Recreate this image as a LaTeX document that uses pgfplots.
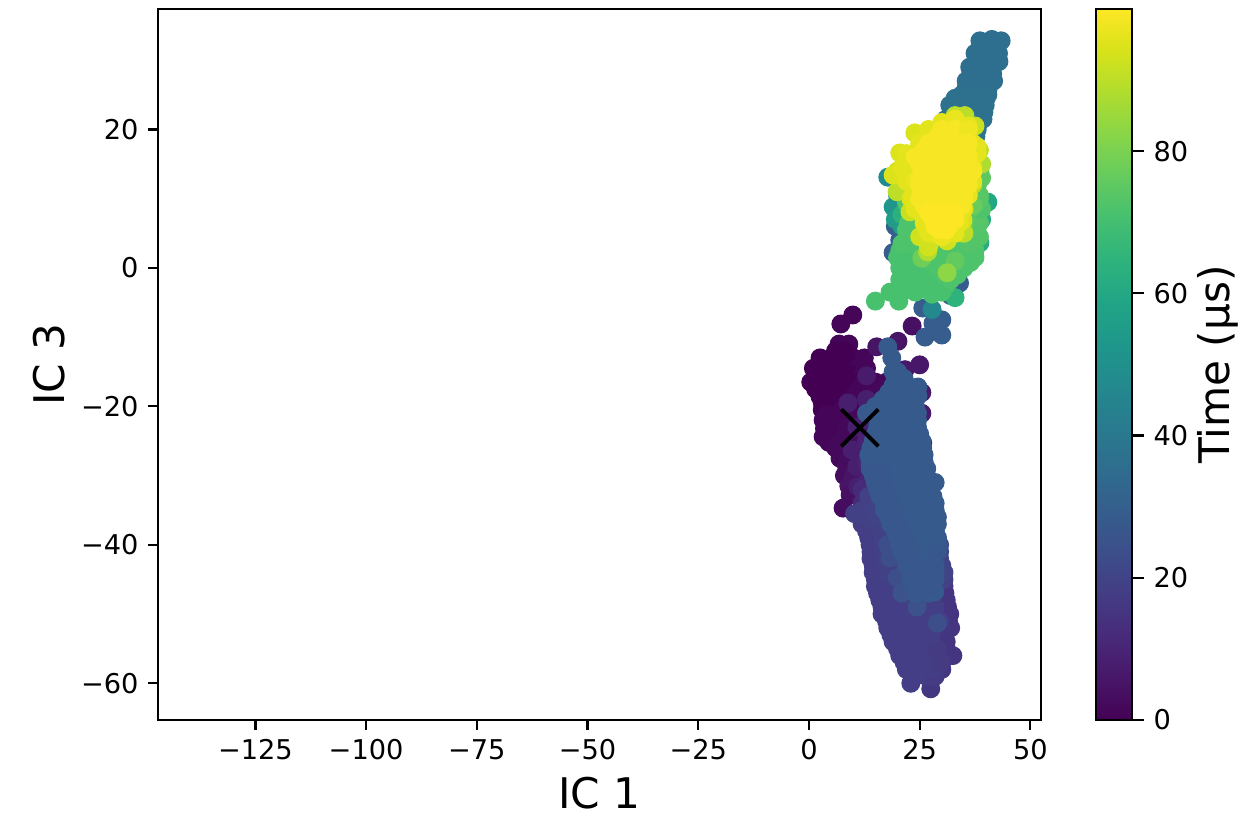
\documentclass[border=0pt]{standalone}
\usepackage{fontspec}
\setmainfont{DejaVu Sans}
\usepackage{pgfplots}
\pgfplotsset{compat=1.18}

\begin{document}
\begin{tikzpicture}[x=1pt,y=1pt]
\path[use as bounding box] (0,0) rectangle (446.76pt,293.4pt);
\begin{axis}[
    at={(56.88pt,34.2pt)}, anchor=south west,
    scale only axis,
    width=317.88pt, height=255.96pt,
    xmin=-147, xmax=52.4, ymin=-65.3, ymax=37.4,
    axis line style={line width=0.8pt},
    tick align=outside, tick pos=left,
    major tick length=3.5pt,
    every tick/.style={black,line width=0.8pt},
    tick label style={font=\fontsize{9.8}{12}\selectfont},
    xtick={-125,-100,-75,-50,-25,0,25,50},
    xticklabels={−125,−100,−75,−50,−25,0,25,50},
    ytick={-60,-40,-20,0,20},
    yticklabels={−60,−40,−20,0,20},
    xlabel={IC 1}, ylabel={IC 3},
    label style={font=\fontsize{15.2}{18}\selectfont},
    xlabel style={at={(axis description cs:0.5,0)},anchor=base,yshift=-31.7pt},
    ylabel style={at={(axis description cs:0,0.5)},anchor=base,yshift=33.5pt},
    colormap/viridis,
    point meta min=0, point meta max=100,
    colorbar,
    colorbar style={
        at={(parent axis.south east)}, anchor=south west, xshift=11.2pt,
        width=12.96pt,
        /pgf/number format/assume math mode=true,
        ytick={0,20,40,60,80},
        tick align=outside, ytick pos=right,
        ylabel={Time (µs)},
        axis line style={line width=0.8pt},
        ylabel style={at={(axis description cs:1,0.5)},anchor=base,yshift=-35pt,
            font=\fontsize{15.2}{18}\selectfont},
    },
]
\addplot[scatter, only marks, mark=*, mark size=3.2pt, point meta=explicit,
    scatter/use mapped color={draw=mapped color,fill=mapped color}] coordinates {
% first microseconds, dark blob
(9.9,-6.8)[1] (7.2,-8.1)[1] (6.8,-11)[1] (9,-11)[1]
(2.5,-13)[0] (5,-13)[0] (7.5,-13)[0] (10,-13)[0] (12.5,-13)[1]
(6,-12)[0] (8,-12)[0]
(1,-14.5)[0] (3.5,-14.5)[0] (6,-14.5)[0] (8.5,-14.5)[0] (11,-14.5)[1] (13,-14.5)[1]
(2,-15.5)[0] (4.5,-15.5)[0] (7,-15.5)[0] (9.5,-15.5)[0] (12,-15.5)[1]
(0.4,-16.5)[0] (2.5,-16.5)[0] (5,-16.5)[0] (7.5,-16.5)[0] (10,-16.5)[0] (12.5,-16.5)[1] (15,-16.5)[1] (17.5,-16.5)[2]
(1.5,-17.5)[0] (4,-17.5)[0] (6.5,-17.5)[0] (9,-17.5)[0] (11.5,-17.5)[1] (14,-17.5)[1] (16.5,-17.5)[2]
(2.5,-18.6)[0] (5,-18.6)[0] (7.5,-18.6)[0] (10,-18.6)[1] (12.5,-18.6)[1] (15,-18.6)[2] (17,-18.6)[3] (19,-18.6)[3]
(3,-19.5)[0] (6,-19.5)[0] (9,-19.5)[1] (11.5,-19.5)[1] (14,-19.5)[2]
(3,-20.5)[0] (5,-20.5)[0] (7.5,-20.5)[1] (10,-20.5)[1] (12.5,-20.5)[2]
(4,-21.2)[1] (6.5,-21.2)[1] (9,-21.2)[1] (11,-21.2)[2]
(3.2,-22)[1] (5.5,-22)[1] (8,-22)[1] (10,-22)[2] (12,-22)[2]
(3.5,-23.2)[1] (6,-23.2)[1] (8.5,-23.2)[2] (11,-23.2)[2]
(3.2,-24.4)[1] (5.5,-24.4)[1] (8,-24.4)[2] (10,-24.4)[2] (12,-24.4)[3]
(4.5,-25.2)[1] (7,-25.2)[2] (9,-25.2)[2] (11,-25.2)[3] (13,-25.2)[3]
(6,-26)[2] (8,-26)[2] (10,-26)[3] (12,-26)[3]
(7,-27.5)[2] (9,-27.5)[3] (11,-27.5)[3]
(8.5,-28.7)[3] (8,-30)[3] (10,-30)[5] (9,-31.5)[5] (9.3,-32.8)[4] (7.7,-34.7)[3]
(23.3,-8.4)[4] (15.3,-11.4)[5] (20.1,-10.6)[5] (25,-14)[6] (21.7,-14.7)[6]
(25.5,-18)[7] (25.5,-21)[7] (25.7,-25.3)[7] (22,-21)[7]
(13,-15.6)[7] (8.8,-19.5)[8] (10.8,-23)[8] (9.7,-26.3)[8] (10.8,-28.7)[8] (11,-31.6)[8]
(13,-19)[8] (14,-22)[9] (13,-25)[9] (13,-28)[10] (13,-31)[10]
% slow drift down the lower band
(12,-32)[12] (15,-32)[12] (18,-32)[13] (21,-32)[13] (24,-32)[13]
(12,-34)[12] (15,-34)[13] (18,-34)[13] (21,-34)[14] (24,-34)[14]
(32.5,-56)[15] (31,-54)[15] (32,-52)[15] (31.8,-50)[15] (31,-48)[15] (30.5,-46)[15]
(31,-55)[15] (30,-53)[15] (31.5,-51)[15] (31.3,-49)[15] (30.7,-47)[15]
(29.5,-56)[16] (28,-54)[16] (30,-58)[16] (30,-52)[16] (28.5,-50)[16] (28,-48)[16] (27,-46)[16] (27.5,-60.8)[16]
(23,-60)[18] (24,-59)[18] (26.5,-59)[18] (28.5,-59)[17]
(22,-58)[18] (25,-58)[18] (28,-58)[18]
(21.5,-57)[18] (24,-57)[18] (27,-57)[18] (30,-57)[17]
(20.5,-56)[18] (23.5,-56)[18] (26.5,-56)[18]
(20,-55)[18] (23,-55)[18] (26,-55)[18] (29,-55)[17]
(19,-54)[18] (22,-54)[18] (25,-54)[18]
(18.5,-53)[18] (21.5,-53)[18] (24.5,-53)[18] (27.5,-53)[18]
(17.8,-52)[18] (21,-52)[18] (24,-52)[18] (27,-52)[18]
(17.5,-51)[18] (20.5,-51)[18] (23.5,-51)[18] (26.5,-51)[18] (29.5,-51)[18]
(16.5,-50)[18] (19.5,-50)[18] (22.5,-50)[18] (25.5,-50)[18]
(16.5,-49)[18] (19.5,-49)[18] (22.5,-49)[18] (25.5,-49)[18] (28.5,-49)[18]
(16,-48)[18] (19,-48)[18] (22,-48)[18] (25,-48)[18]
(15.5,-47)[18] (18.5,-47)[18] (21.5,-47)[18] (24.5,-47)[18] (27.5,-47)[18]
(15,-46)[18] (18,-46)[18] (21,-46)[19] (24,-46)[19]
(15,-45)[18] (18,-45)[18] (21,-45)[19] (24,-45)[19] (27,-45)[19] (30.5,-45)[19]
(14.5,-44)[18] (17.5,-44)[19] (20.5,-44)[19] (23.5,-44)[20] (26.5,-44)[20] (30.5,-44)[20]
(14.5,-43)[18] (17.5,-43)[19] (20.5,-43)[19] (23.5,-43)[20] (26.5,-43)[20] (30,-43)[20]
(14,-42)[18] (17,-42)[19] (20,-42)[19] (23,-42)[20] (26,-42)[20] (29.5,-42)[20]
(14,-41)[18] (17,-41)[19] (20,-41)[19] (23,-41)[20] (26,-41)[20] (29.5,-41)[20]
(13.8,-40)[18] (16.8,-40)[19] (19.8,-40)[19] (22.8,-40)[20] (25.8,-40)[20] (29.5,-40)[20]
(13.5,-39)[18] (16.5,-39)[19] (19.5,-39)[20] (22.5,-39)[20] (25.5,-39)[20] (29,-39)[20]
(13,-38)[18] (16,-38)[19] (19,-38)[20] (22,-38)[20] (25,-38)[21] (28.5,-38)[21]
(12,-37)[18] (15,-37)[19] (18,-37)[20] (21,-37)[20] (24,-37)[21] (27,-37)[21]
(10.3,-35.5)[19] (13,-36)[19] (16,-36)[20] (19,-36)[20] (22,-36)[21] (25,-36)[21] (28,-36)[22]
(12,-35)[19] (15,-35)[20] (18,-35)[20] (21,-35)[21] (24,-35)[21] (27,-35)[22]
(14,-29)[17] (15,-31)[18] (13.5,-33)[19]
(18.3,-41.9)[24] (17.8,-40)[24] (19.9,-44.8)[24] (29,-51.3)[24] (24.4,-49)[25] (21,-47)[25]
% main blue band
(24,-47)[27] (27,-47)[27] (28.4,-46.8)[28] (25.5,-46)[27] (27.5,-46)[27]
(23,-45)[27] (26,-45)[27] (28.5,-45)[27] (23.5,-44)[27] (26.5,-44)[27] (28.5,-44)[27]
(22,-43)[27] (25,-43)[27] (28.5,-43)[27] (22,-42)[27] (25,-42)[27] (28,-42)[27]
(21,-41)[27] (24,-41)[27] (27,-41)[28] (29,-41)[27] (20.5,-40)[27] (23.5,-40)[27] (26.5,-40)[28] (29.2,-40)[27]
(20,-39)[27] (23,-39)[27] (26,-39)[28] (29,-39)[28] (19.5,-38)[27] (22.5,-38)[27] (25.5,-38)[28] (28.5,-38)[28]
(18.5,-37)[27] (21.5,-37)[27] (24.5,-37)[28] (27.5,-37)[28] (29,-37)[28] (18,-36)[27] (21,-36)[27] (24,-36)[28] (27,-36)[28] (29,-36)[28]
(17,-35)[27] (20,-35)[27] (23,-35)[28] (26,-35)[28] (28.5,-35)[28] (17,-34)[27] (20,-34)[27] (23,-34)[28] (26,-34)[28] (28.5,-34)[28]
(16,-33)[27] (19,-33)[27] (22,-33)[28] (25,-33)[28] (28,-33)[28] (15.5,-32)[27] (18.5,-32)[27] (21.5,-32)[28] (24.5,-32)[28] (27.5,-32)[28]
(15,-31)[27] (18,-31)[27] (21,-31)[28] (24,-31)[28] (27,-31)[28] (28.5,-31)[28] (14.5,-30)[27] (17.5,-30)[27] (20.5,-30)[28] (23.5,-30)[28] (26.5,-30)[28]
(13.8,-29)[27] (17,-29)[27] (20,-29)[28] (23,-29)[28] (26.6,-29)[28] (13.8,-28)[27] (17,-28)[27] (20,-28)[28] (23,-28)[28] (26,-28)[28]
(13.5,-27)[28] (16.5,-27)[28] (19.5,-27)[28] (22.5,-27)[28] (26,-27)[28] (14,-26)[28] (17,-26)[28] (20,-26)[28] (23,-26)[28] (25.7,-26)[28]
(14.5,-25)[28] (17.5,-25)[28] (20.5,-25)[28] (23.5,-25)[28] (25.5,-25)[28] (15,-24)[28] (18,-24)[28] (21,-24)[28] (24,-24)[28] (25,-24)[28]
(15.5,-23)[28] (18.5,-23)[28] (21.5,-23)[28] (24.5,-23)[28] (16.5,-22)[28] (19.5,-22)[28] (22.5,-22)[28] (24.5,-22)[28]
(13,-21)[28] (16,-21)[28] (19,-21)[28] (22,-21)[28] (24.5,-21)[28] (15,-20)[28] (18,-20)[28] (21,-20)[28] (24,-20)[28]
(16.7,-19)[28] (19.5,-19)[28] (22.5,-19)[28] (24.6,-18.5)[28] (18,-18)[28] (21,-18)[28] (23.5,-18)[28]
(19,-17)[28] (22,-17)[28] (24.6,-17.2)[28] (19.5,-16)[28] (21.5,-16)[28]
(19,-15)[28] (20,-15)[28] (18.7,-13)[28] (17.8,-11.4)[28]
(26.2,-10)[29] (30,-9.7)[29] (30,-7.5)[29] (25.7,-5.8)[29] (28,-8)[29]
(25,-3)[29] (32,-4)[30] (34,-2.2)[29] (33,-1)[30] (19,2.2)[29] (20.5,4)[30] (19.5,6)[30]
% teal top arm
(38.6,32.8)[36] (41.3,33)[36] (43.4,32.8)[36] (40,32)[36] (42,32)[36]
(37.5,31)[36] (40,31)[36] (42.8,31)[36] (38,30)[36] (40.5,30)[36] (42.7,30)[36]
(36.3,29)[36] (39,29)[36] (42.9,29.8)[36] (36.5,28)[36] (39,28)[36] (41.5,28)[36]
(35.5,27)[36] (38,27)[36] (41.7,27)[36] (35.5,26)[36] (38,26)[36] (40.5,26)[36]
(34.5,25)[36] (37,25)[37] (40.4,25)[37] (33,24.5)[37] (35.5,24.5)[37] (38,24.5)[37] (40,24.5)[37]
(31.8,23.5)[37] (34.5,23.5)[37] (37,23.5)[37] (39.8,23.5)[37] (32.5,22.5)[37] (35.5,22.5)[37] (38,22.5)[37] (39.5,22.5)[37]
(31,21.5)[37] (34,21.5)[37] (37,21.5)[37] (39.3,21.5)[37] (32,20)[37] (35,20)[37] (38,20)[37]
(30,19)[38] (33,19)[38] (36,19)[38] (37.7,19)[38] (31,18)[38] (34,18)[38] (37,18)[38]
(28,16)[39] (31,16)[39] (34,16)[39] (37,16)[39] (30,10)[40]
(27.8,-6)[47] (17.8,13.1)[48] (19,8.8)[52] (20,10.5)[52] (19.5,7)[55] (21,6)[55]
(40.4,9.5)[60] (38,12)[60] (39,7)[62] (38.6,3.6)[62] (21,7.7)[64] (33,-4.3)[65]
% green spread
(15,-4.8)[71] (20.3,-4.8)[71]
(18.3,-3.5)[71] (21,-3.5)[71] (24,-3.5)[71] (27.8,-3.8)[71] (30,-3.5)[71]
(22,-2.5)[71] (25,-2.5)[71] (28,-2.5)[71] (31,-2.5)[71]
(20.5,-1.7)[71] (23,-1.7)[71] (26,-1.7)[71] (29,-1.7)[71] (32,-1.7)[72]
(21.5,-1)[71] (24.5,-1)[71] (27.5,-1)[71] (30.5,-1)[72] (33.5,-1)[72]
(20.5,0)[71] (23,0)[71] (26,0)[71] (29,0)[72] (32,0)[72] (35,0)[72]
(21.5,0.8)[71] (24.5,0.8)[71] (27.5,0.8)[72] (30.5,0.8)[72] (33.5,0.8)[72] (36.5,0.8)[72]
(20,1.5)[71] (23,1.5)[71] (26,1.5)[72] (29,1.5)[72] (32,1.5)[72] (35,1.5)[72] (37.5,1.5)[72]
(20.5,2.5)[71] (22.5,2.5)[71] (25.5,2.5)[72] (28.5,2.5)[72] (31.5,2.5)[72] (34.5,2.5)[72] (37.5,2.5)[72]
(21,3.5)[72] (24,3.5)[72] (27,3.5)[72] (30,3.5)[72] (33,3.5)[72] (36,3.5)[73] (37.5,4)[73]
(22.5,4.5)[72] (25.5,4.5)[72] (28.5,4.5)[72] (31.5,4.5)[72] (34.5,4.5)[73] (37.5,4.5)[73] (38.5,4.5)[73]
(22,5.5)[72] (25,5.5)[72] (28,5.5)[72] (31,5.5)[73] (34,5.5)[73] (37,5.5)[73] (38,6)[73]
(22.5,6.5)[72] (24.5,6.5)[72] (27.5,6.5)[73] (30.5,6.5)[73] (33.5,6.5)[73] (36.5,6.5)[73] (38.5,6.5)[73]
(23,7.5)[72] (26,7.5)[73] (29,7.5)[73] (32,7.5)[73] (35,7.5)[74] (38,7.5)[74] (39,8.5)[72]
(24,8.5)[73] (27.5,8.5)[73] (30.5,8.5)[73] (33.5,8.5)[74] (36.5,8.5)[74]
(22,9.5)[73] (26,9.5)[73] (29,9.5)[73] (32,9.5)[74] (35,9.5)[74] (38,9.5)[74] (38.5,10)[74]
(24,10.5)[73] (27.5,10.5)[74] (30.5,10.5)[74] (33.5,10.5)[74] (36.5,10.5)[74] (38.5,10.5)[74]
(22,11.5)[73] (25,11.5)[74] (28,11.5)[74] (31,11.5)[74] (34,11.5)[74] (37,11.5)[75] (38,12)[74]
(26,13)[74] (30,13)[74] (34,13)[75] (37.5,13)[75] (39,13)[75]
(24,14)[74] (28,14)[74] (32,14)[75] (36,14)[75] (38.6,14)[75] (37.5,16)[76]
(25.5,1.4)[78] (33,1)[76] (28,4)[78] (35,6)[78] (37,9)[77] (31.2,-0.7)[83] (26.8,2.3)[88]
% yellow core
(39,15)[88] (38.5,17)[90] (37,12)[90] (35,5)[90] (22,12)[90] (19.9,11)[90] (33,22)[90] (35.2,22)[90]
(37.5,20.5)[92] (20,14)[92] (22.8,8.1)[92] (25,4.5)[93] (27,3)[93] (31.2,3.9)[93] (34.8,6.9)[94]
(23.9,19.5)[95] (20.5,16.6)[95] (19,13.4)[95] (23,10)[95]
(22,15)[96] (25,17.5)[96] (27,20)[96] (30,21)[96] (36,20.5)[96] (38,17.5)[96] (37,14)[96] (24,11)[96] (24,14)[96] (26,7)[96] (28,5)[96] (33,5.5)[96]
(30,20)[96] (33,20)[96] (25,18)[96] (28,18)[96] (31,18)[96] (34,18)[96] (37,18)[96]
(22,16.5)[96] (24.5,16.5)[96] (27,16.5)[96] (30,16.5)[97] (33,16.5)[97] (36,16.5)[97] (38,16.5)[96]
(21,14.5)[96] (23,14.5)[96] (37,14.5)[97] (22,12.5)[96] (24,12.5)[97] (37,12.5)[96]
(23.5,10.5)[96] (36,10.5)[96] (24,8.5)[96] (35,8.5)[96] (26,6.5)[96] (34,6.5)[96] (27,5)[96] (33,5)[96]
(33,21.5)[97] (30,4.5)[97]
(29,19)[99] (32,19)[99] (35,19)[99] (30,20)[99] (33,20)[99] (36,20)[98]
(27,18)[99] (30,18)[99] (33,18)[99] (36,18)[99]
(26,17)[99] (29,17)[99] (32,17)[99] (35,17)[99]
(24,16)[99] (27,16)[99] (30,16)[99] (33,16)[99] (36,16)[99]
(25,15)[99] (28,15)[99] (31,15)[99] (34,15)[99] (36,15)[99]
(26,14)[99] (29,14)[99] (32,14)[99] (35,14)[99] (37,14)[99]
(25,13)[99] (28,13)[99] (31,13)[99] (34,13)[99] (36,13)[99]
(25,12)[99] (27,12)[99] (30,12)[99] (33,12)[99] (36,12)[99]
(26,11)[99] (29,11)[99] (32,11)[99] (35,11)[99]
(25,10)[99] (27,10)[99] (30,10)[99] (33,10)[99] (35,10)[99]
(26,9)[99] (29,9)[99] (32,9)[99] (34.5,9)[99]
(27,8)[100] (30,8)[100] (33,8)[100]
(28,7)[100] (31,7)[100] (33,7)[100] (28.5,6)[100] (31.5,6)[100] (29.5,5.5)[100] (31,5.5)[100]
};
\addplot[only marks, mark=x, mark size=9.4pt, mark options={line width=1.4pt,black}]
    coordinates {(11.5,-23.1)};
\end{axis}
\end{tikzpicture}
\end{document}
